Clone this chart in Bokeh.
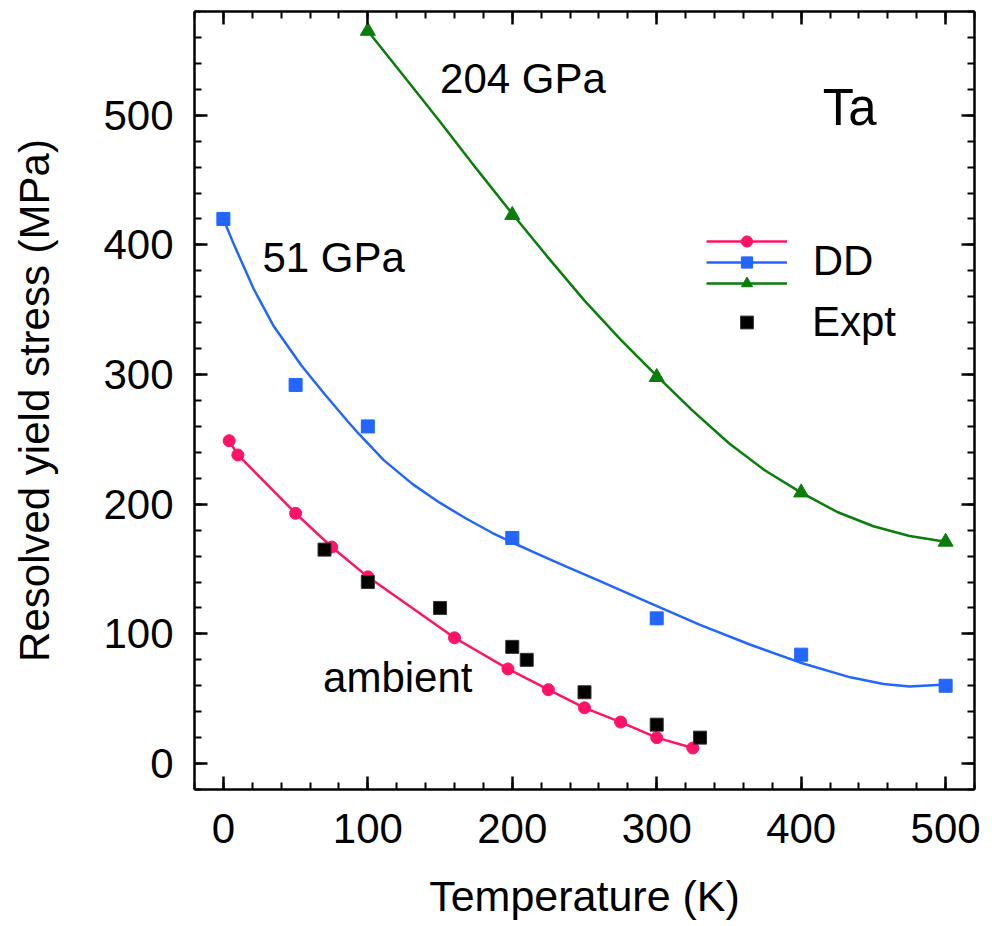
from bokeh.plotting import figure
from bokeh.models import (LinearAxis, SingleIntervalTicker, Range1d, Legend,
                          LegendItem, Label, CustomJSTickFormatter)
from bokeh.embed import file_html
from bokeh.resources import INLINE

# ---------------- data ----------------
# DD, ambient pressure
amb_T = [4, 10, 50, 75, 100, 160, 197, 225, 250, 275, 300, 325]
amb_S = [249, 238, 193, 167, 144, 97, 73, 57, 43, 32, 20, 12]

# DD, 51 GPa (points) and its smooth fit curve
p51_T = [0, 50, 100, 200, 300, 400, 500]
p51_S = [420, 292, 260, 174, 112, 84, 60]
p51_fit_T = [0, 7, 21, 35, 54, 70, 86, 94, 111, 131, 150, 168, 186, 200,
             219, 237, 258, 295, 330, 364, 399, 434, 457, 475, 500]
p51_fit_S = [420, 401, 366, 337, 307, 285, 264, 254, 234, 215.5, 201, 189,
             178, 170.5, 161, 152, 142, 124, 107, 92, 78, 66.5, 61.3, 59.4, 61]

# DD, 204 GPa (points) and its smooth fit curve
p204_T = [100, 200, 300, 400, 500]
p204_S = [565, 423, 298, 209, 171]
p204_fit_T = [100, 125, 150, 175, 200, 225, 250, 275, 300, 325, 350, 375,
              400, 425, 450, 475, 500]
p204_fit_S = [565, 530, 495, 459, 424, 390, 357, 327, 299, 272, 247, 226,
              209, 194, 183, 175.5, 171]

# Experiment
exp_T = [70, 100, 150, 200, 210, 250, 300, 330]
exp_S = [165, 140, 120, 90, 80, 55, 30, 20]

x_tick_interval = 100
y_tick_interval = 100

PINK = "#ff1268"
BLUE = "#2266ff"
GREEN = "#0a7d0a"
FONT = "Liberation Sans"
FS = "42px"

p = figure(frame_width=780, frame_height=778,
           x_range=Range1d(-20, 520), y_range=Range1d(-20, 580),
           output_backend="svg", toolbar_location=None,
           min_border_left=194, min_border_right=8, min_border_top=11,
           min_border_bottom=125,
           x_axis_label="Temperature (K)",
           y_axis_label="Resolved yield stress (MPa)")
p.grid.visible = False
p.outline_line_color = None
p.background_fill_color = "white"
p.border_fill_color = "white"

bx = p.below[0]
ly = p.left[0]
bx.ticker = SingleIntervalTicker(interval=x_tick_interval, num_minor_ticks=5)
ly.ticker = SingleIntervalTicker(interval=y_tick_interval, num_minor_ticks=5)

blank = CustomJSTickFormatter(code="return ''")
top_ax = LinearAxis(ticker=SingleIntervalTicker(interval=x_tick_interval, num_minor_ticks=5),
                    formatter=blank, major_label_standoff=0)
right_ax = LinearAxis(ticker=SingleIntervalTicker(interval=y_tick_interval, num_minor_ticks=5),
                      formatter=blank, major_label_standoff=0)
p.add_layout(top_ax, "above")
p.add_layout(right_ax, "right")

for ax in [bx, ly, top_ax, right_ax]:
    ax.axis_line_width = 2.5
    ax.axis_line_color = "black"
    ax.major_tick_line_width = 2.5
    ax.minor_tick_line_width = 2
    ax.major_tick_in = 13
    ax.major_tick_out = 0
    ax.minor_tick_in = 7
    ax.minor_tick_out = 0

for ax in [bx, ly]:
    ax.major_label_text_font = FONT
    ax.major_label_text_font_size = FS
    ax.major_label_text_color = "black"
    ax.axis_label_text_font = FONT
    ax.axis_label_text_font_size = FS
    ax.axis_label_text_font_style = "normal"
    ax.axis_label_text_color = "black"
bx.axis_label_text_font_size = "43px"

bx.major_label_standoff = 24
bx.axis_label_standoff = 26
ly.major_label_standoff = 21
ly.axis_label_standoff = 42

# ---------------- glyphs ----------------
amb_line = p.line(amb_T, amb_S, line_color=PINK, line_width=2.5)
amb_pts = p.scatter(amb_T, amb_S, marker="circle", size=12,
                    fill_color=PINK, line_color=PINK)

b_line = p.line(p51_fit_T, p51_fit_S, line_color=BLUE, line_width=2.5)
b_pts = p.scatter(p51_T, p51_S, marker="square", size=13,
                  fill_color=BLUE, line_color=BLUE)

g_line = p.line(p204_fit_T, p204_fit_S, line_color=GREEN, line_width=2.5)
g_pts = p.scatter(p204_T, p204_S, marker="triangle", size=15,
                  fill_color=GREEN, line_color=GREEN)

e_pts = p.scatter(exp_T, exp_S, marker="square", size=13,
                  fill_color="black", line_color="#333333")

# ---------------- annotations ----------------
def lab(x, y, t, size=FS):
    p.add_layout(Label(x=x, y=y, text=t, text_font=FONT, text_font_size=size,
                       text_color="black", text_baseline="alphabetic",
                       text_align="left"))

lab(150, 528, "204 GPa")
lab(27, 390, "51 GPa")
lab(69, 66, "ambient")
lab(415, 506, "Ta", "51px")
lab(408, 388, "DD")

def glyph_legend(rends, vy):
    lg = Legend(items=[LegendItem(label=" ", renderers=rends)],
                location=(512, vy), glyph_width=81, glyph_height=28,
                label_height=28, spacing=0, padding=0, margin=0,
                border_line_color=None, background_fill_alpha=0,
                label_text_font_size="8px", label_standoff=0)
    p.add_layout(lg)

glyph_legend([amb_line, amb_pts], 534)
glyph_legend([b_line, b_pts], 513)
glyph_legend([g_line, g_pts], 492)

legB = Legend(items=[LegendItem(label="Expt", renderers=[e_pts])],
              location=(512, 443), glyph_width=81, glyph_height=32,
              label_height=32, spacing=0, padding=0, margin=0,
              border_line_color=None, background_fill_alpha=0,
              label_text_font=FONT, label_text_font_size=FS,
              label_text_color="black", label_standoff=25)
p.add_layout(legB)

open("out.html", "w").write(file_html(p, INLINE))
